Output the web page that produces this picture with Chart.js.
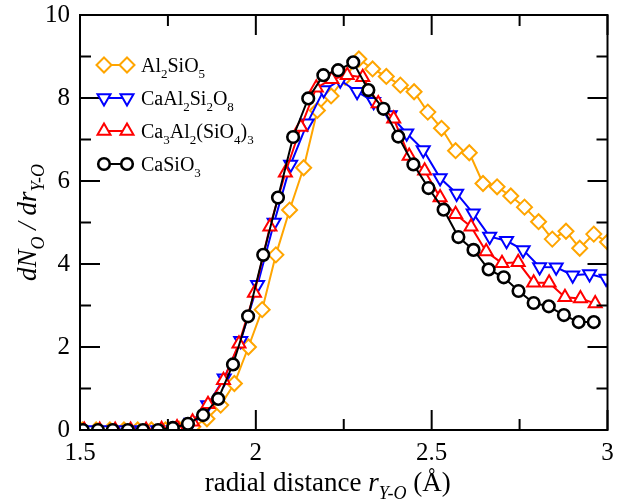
<!DOCTYPE html>
<html>
<head>
<meta charset="utf-8">
<script src="https://cdn.jsdelivr.net/npm/chart.js@4.4.1/dist/chart.umd.min.js"></script>
<style>
  html, body { margin: 0; padding: 0; background: #fff; }
  #wrap { width: 617px; height: 504px; }
</style>
</head>
<body>
<div id="wrap"><canvas id="chart" width="617" height="504"></canvas></div>
<script>
/* --------------- Data ------------------------------------------- */
const names = ["Al_2SiO_5", "CaAl_2Si_2O_8", "Ca_3Al_2(SiO_4)_3", "CaSiO_3"];

const xAl2SiO5 = [1.507, 1.546, 1.585, 1.625, 1.664, 1.703, 1.743, 1.782, 1.821, 1.861,
  1.900, 1.939, 1.979, 2.018, 2.057, 2.096, 2.136, 2.175, 2.214, 2.254,
  2.293, 2.332, 2.371, 2.411, 2.450, 2.489, 2.528, 2.568, 2.607, 2.646,
  2.686, 2.725, 2.764, 2.804, 2.843, 2.882, 2.921, 2.961, 3.000];
const yAl2SiO5 = [0, 0, 0, 0, 0, 0, 0, 0.02, 0.08, 0.27,
  0.6, 1.12, 2.0, 2.9, 4.22, 5.3, 6.32, 7.7, 8.05, 8.5,
  8.94, 8.7, 8.52, 8.31, 8.15, 7.66, 7.27, 6.73, 6.68, 5.94,
  5.86, 5.64, 5.37, 5.02, 4.6, 4.79, 4.38, 4.72, 4.53];

const xCaAl2Si2O8 = [1.532, 1.579, 1.627, 1.674, 1.721, 1.768, 1.816, 1.863, 1.910, 1.957,
  2.005, 2.052, 2.099, 2.146, 2.193, 2.240, 2.288, 2.335, 2.382, 2.429,
  2.476, 2.524, 2.571, 2.618, 2.665, 2.713, 2.760, 2.807, 2.854, 2.901,
  2.949, 2.996];
const yCaAl2Si2O8 = [0, 0, 0, 0, 0, 0, 0.18, 0.6, 1.25, 2.15,
  3.5, 5.0, 6.4, 7.39, 8.19, 8.43, 8.15, 7.91, 7.59, 7.15,
  6.75, 6.07, 5.7, 5.22, 4.66, 4.56, 4.34, 3.93, 3.92, 3.73,
  3.76, 3.65];

const xCa3Al2SiO43 = [1.512, 1.556, 1.600, 1.644, 1.688, 1.732, 1.776, 1.820, 1.864, 1.908,
  1.952, 1.996, 2.040, 2.084, 2.128, 2.172, 2.216, 2.260, 2.304, 2.348,
  2.392, 2.436, 2.480, 2.524, 2.568, 2.612, 2.655, 2.700, 2.746, 2.790,
  2.834, 2.879, 2.923, 2.965];
const yCa3Al2SiO43 = [0, 0, 0, 0, 0, 0.02, 0.06, 0.2, 0.62, 1.2,
  2.08, 3.3, 4.9, 6.2, 7.3, 8.25, 8.45, 8.55, 8.5, 7.87,
  7.5, 6.6, 6.25, 5.6, 5.2, 4.9, 4.3, 4.02, 4.04, 3.55,
  3.55, 3.2, 3.17, 3.05];

const xCaSiO3 = [1.508, 1.551, 1.593, 1.636, 1.679, 1.722, 1.764, 1.807, 1.850, 1.893,
  1.935, 1.978, 2.021, 2.063, 2.106, 2.149, 2.192, 2.234, 2.277, 2.320,
  2.363, 2.405, 2.448, 2.491, 2.534, 2.576, 2.619, 2.662, 2.705, 2.747,
  2.790, 2.833, 2.876, 2.918, 2.961];
const yCaSiO3 = [0, 0, 0, 0, 0, 0, 0.05, 0.15, 0.36, 0.75,
  1.58, 2.74, 4.22, 5.6, 7.06, 7.99, 8.55, 8.67, 8.86, 8.19,
  7.74, 7.07, 6.4, 5.83, 5.31, 4.65, 4.34, 3.87, 3.68, 3.35,
  3.06, 2.98, 2.77, 2.6, 2.6];

/* --------------- Styles --------------------- */
const colors = ["#FFA500", "#0000FF", "#FF0000", "#000000"];
const markers = ["rectRot", "triangle", "triangle", "circle"];
const markerRot = [0, 180, 0, 0];
const markerSize = [7.5, 7.5, 7.5, 5.8];
const markerBorder = [2, 2, 2, 2.6];
const SERIF = '"Liberation Serif", "Times New Roman", serif';

const toPoints = (xs, ys) => xs.map((x, i) => ({ x: x, y: ys[i] }));
const series = [
  toPoints(xAl2SiO5, yAl2SiO5),
  toPoints(xCaAl2Si2O8, yCaAl2Si2O8),
  toPoints(xCa3Al2SiO43, yCa3Al2SiO43),
  toPoints(xCaSiO3, yCaSiO3),
];

/* --------------- Rich text helpers (subscripts, italics) --------------------- */
function parseFormula(str) {
  const out = [];
  let buf = "";
  for (let i = 0; i < str.length; i++) {
    if (str[i] === "_") {
      if (buf) { out.push({ t: buf }); buf = ""; }
      out.push({ t: str[i + 1], sub: true });
      i++;
    } else {
      buf += str[i];
    }
  }
  if (buf) out.push({ t: buf });
  return out;
}
function segFont(s, size) {
  return (s.it ? "italic " : "") + Math.round(s.sub ? size * 0.66 : size) + "px " + SERIF;
}
function richWidth(ctx, segs, size) {
  let w = 0;
  for (const s of segs) { ctx.font = segFont(s, size); w += ctx.measureText(s.t).width; }
  return w;
}
function drawRich(ctx, segs, x, y, size) {
  let cx = x;
  ctx.textAlign = "left";
  ctx.textBaseline = "alphabetic";
  for (const s of segs) {
    ctx.font = segFont(s, size);
    ctx.fillText(s.t, cx, y + (s.sub ? size * 0.3 : 0));
    cx += ctx.measureText(s.t).width;
  }
}

const xTitle = [{ t: "radial distance " }, { t: "r", it: true }, { t: "Y-O", it: true, sub: true }, { t: " (Å)" }];
const yTitle = [{ t: "dN", it: true }, { t: "O", it: true, sub: true }, { t: " / dr", it: true }, { t: "Y-O", it: true, sub: true }];

/* --------------- Legend marker shapes --------------------- */
function marker(ctx, i, x, y) {
  const r = markerSize[i];
  ctx.beginPath();
  if (markers[i] === "circle") {
    ctx.arc(x, y, r, 0, Math.PI * 2);
  } else if (markers[i] === "rectRot") {
    ctx.moveTo(x, y - r); ctx.lineTo(x + r, y); ctx.lineTo(x, y + r); ctx.lineTo(x - r, y);
  } else {
    const s = markerRot[i] ? -1 : 1;
    ctx.moveTo(x, y - s * r);
    ctx.lineTo(x + r * 0.866, y + s * r * 0.5);
    ctx.lineTo(x - r * 0.866, y + s * r * 0.5);
  }
  ctx.closePath();
  ctx.fillStyle = "#fff";
  ctx.fill();
  ctx.lineWidth = markerBorder[i];
  ctx.strokeStyle = colors[i];
  ctx.stroke();
}

/* --------------- Frame, titles, legend --------------------- */
const decorPlugin = {
  id: "decor",
  afterDraw(chart) {
    const ctx = chart.ctx;
    const a = chart.chartArea;
    const sx = chart.scales.x, sy = chart.scales.y;
    ctx.save();

    // frame with inward major and minor ticks
    ctx.strokeStyle = "#000";
    ctx.lineWidth = 2;
    ctx.strokeRect(a.left, a.top, a.right - a.left, a.bottom - a.top);
    const xt = sx.ticks.map(t => t.value);
    const yt = sy.ticks.map(t => t.value);
    const major = 20, minor = 11;
    const seg = (x1, y1, x2, y2) => {
      ctx.beginPath(); ctx.moveTo(x1, y1); ctx.lineTo(x2, y2); ctx.stroke();
    };
    for (let i = 0; i < xt.length; i++) {
      const p = sx.getPixelForValue(xt[i]);
      seg(p, a.bottom, p, a.bottom - major);
      seg(p, a.top, p, a.top + major);
      if (i < xt.length - 1) {
        const m = sx.getPixelForValue((xt[i] + xt[i + 1]) / 2);
        seg(m, a.bottom, m, a.bottom - minor);
        seg(m, a.top, m, a.top + minor);
      }
    }
    for (let i = 0; i < yt.length; i++) {
      const p = sy.getPixelForValue(yt[i]);
      seg(a.left, p, a.left + major, p);
      seg(a.right, p, a.right - major, p);
      if (i < yt.length - 1) {
        const m = sy.getPixelForValue((yt[i] + yt[i + 1]) / 2);
        seg(a.left, m, a.left + minor, m);
        seg(a.right, m, a.right - minor, m);
      }
    }

    // axis titles
    ctx.fillStyle = "#000";
    const xw = richWidth(ctx, xTitle, 27);
    drawRich(ctx, xTitle, (a.left + a.right) / 2 - xw / 2 - 16, 491, 27);
    const yw = richWidth(ctx, yTitle, 27);
    ctx.save();
    ctx.translate(36, (a.top + a.bottom) / 2);
    ctx.rotate(-Math.PI / 2);
    drawRich(ctx, yTitle, -yw / 2, 0, 27);
    ctx.restore();

    // legend
    names.forEach((n, i) => {
      const ry = a.top + 50 + i * 33;
      const x1 = a.left + 24, x2 = a.left + 47;
      ctx.strokeStyle = colors[i];
      ctx.lineWidth = 2;
      ctx.beginPath(); ctx.moveTo(x1, ry); ctx.lineTo(x2, ry); ctx.stroke();
      marker(ctx, i, x1, ry);
      marker(ctx, i, x2, ry);
      ctx.fillStyle = "#000";
      drawRich(ctx, parseFormula(n), a.left + 61, ry + 7, 20);
    });
    ctx.restore();
  },
};

/* --------------- Chart --------------------- */
const tickFont = { family: SERIF, size: 25 };
const zeroPad = (s) => { s.paddingTop = 0; s.paddingBottom = 0; s.paddingLeft = 0; s.paddingRight = 0; };
new Chart(document.getElementById("chart"), {
  type: "line",
  plugins: [decorPlugin],
  data: {
    datasets: series.map((pts, i) => ({
      label: names[i].replace(/_/g, ""),
      data: pts,
      borderColor: colors[i],
      borderWidth: 2,
      pointStyle: markers[i],
      pointRotation: markerRot[i],
      pointRadius: markerSize[i],
      pointBorderWidth: markerBorder[i],
      pointBackgroundColor: "#fff",
      pointBorderColor: colors[i],
      tension: 0,
      order: 3 - i,
    })),
  },
  options: {
    responsive: false,
    animation: false,
    devicePixelRatio: 1,
    layout: { padding: { top: 15, right: 9, left: 0, bottom: 0 } },
    plugins: { legend: { display: false }, tooltip: { enabled: false } },
    scales: {
      x: {
        type: "linear", min: 1.5, max: 3,
        ticks: { stepSize: 0.5, font: tickFont, color: "#000", padding: 8, maxRotation: 0,
          callback: (v) => String(v) },
        grid: { display: false, drawTicks: false },
        border: { display: false },
        afterFit: (s) => { s.height = 74; zeroPad(s); },
      },
      y: {
        min: 0, max: 10,
        ticks: { stepSize: 2, font: tickFont, color: "#000", padding: 10,
          callback: (v) => String(v) },
        grid: { display: false, drawTicks: false },
        border: { display: false },
        afterFit: (s) => { s.width = 80; zeroPad(s); },
      },
    },
  },
});
</script>
</body>
</html>
